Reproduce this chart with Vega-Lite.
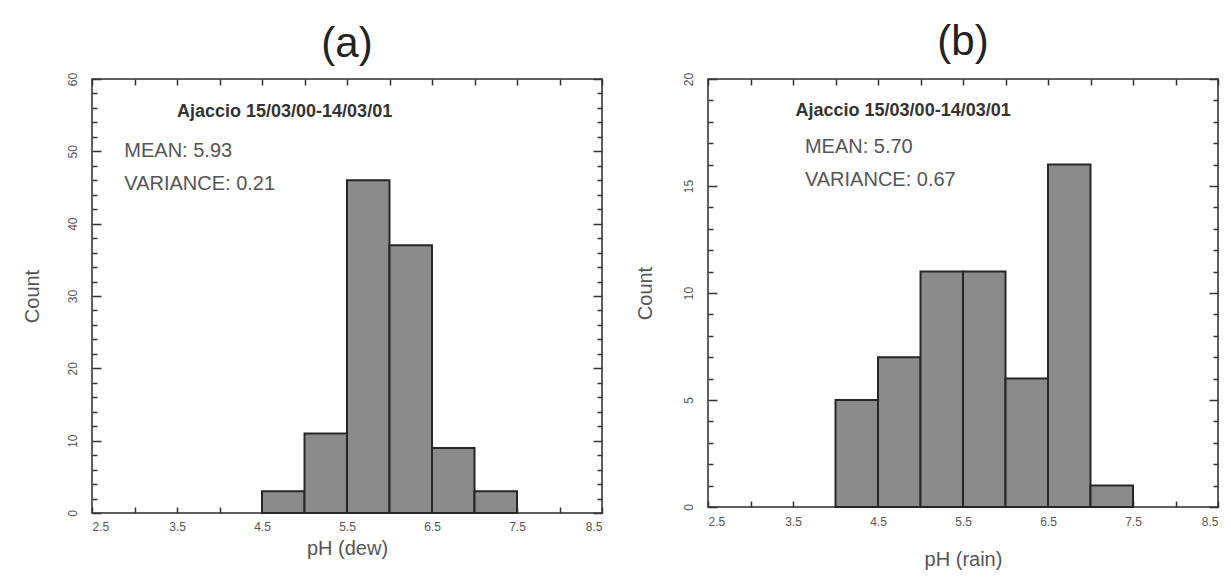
{
  "$schema": "https://vega.github.io/schema/vega-lite/v6.json",
  "background": "#ffffff",
  "padding": {"left": 21, "top": 20, "right": 5, "bottom": 5},
  "datasets": {
    "dew": [
      {"bin_start": 4.5, "bin_end": 5.0, "count": 3},
      {"bin_start": 5.0, "bin_end": 5.5, "count": 11},
      {"bin_start": 5.5, "bin_end": 6.0, "count": 46},
      {"bin_start": 6.0, "bin_end": 6.5, "count": 37},
      {"bin_start": 6.5, "bin_end": 7.0, "count": 9},
      {"bin_start": 7.0, "bin_end": 7.5, "count": 3}
    ],
    "rain": [
      {"bin_start": 4.0, "bin_end": 4.5, "count": 5},
      {"bin_start": 4.5, "bin_end": 5.0, "count": 7},
      {"bin_start": 5.0, "bin_end": 5.5, "count": 11},
      {"bin_start": 5.5, "bin_end": 6.0, "count": 11},
      {"bin_start": 6.0, "bin_end": 6.5, "count": 6},
      {"bin_start": 6.5, "bin_end": 7.0, "count": 16},
      {"bin_start": 7.0, "bin_end": 7.5, "count": 1}
    ],
    "dew_notes": [
      {"px": 3.5, "cy": 55.4, "label": "Ajaccio 15/03/00-14/03/01", "kind": "site"},
      {"px": 2.88, "cy": 50.0, "label": "MEAN: 5.93", "kind": "stat"},
      {"px": 2.88, "cy": 45.5, "label": "VARIANCE: 0.21", "kind": "stat"}
    ],
    "rain_notes": [
      {"px": 3.53, "cy": 18.5, "label": "Ajaccio 15/03/00-14/03/01", "kind": "site"},
      {"px": 3.64, "cy": 16.8, "label": "MEAN: 5.70", "kind": "stat"},
      {"px": 3.64, "cy": 15.3, "label": "VARIANCE: 0.67", "kind": "stat"}
    ]
  },
  "hconcat": [
    {
      "width": 510,
      "height": 434,
      "title": {"text": "(a)", "anchor": "middle", "offset": 6},
      "layer": [
        {
          "data": {"name": "dew"},
          "mark": {"type": "bar", "fill": "#8b8b8b", "stroke": "#262626", "strokeWidth": 2},
          "encoding": {
            "x": {"field": "bin_start", "type": "quantitative",
                  "scale": {"domain": [2.5, 8.5], "nice": false, "zero": false},
                  "axis": {"orient": "bottom", "title": "pH (dew)",
                           "values": [2.5, 3, 3.5, 4, 4.5, 5, 5.5, 6, 6.5, 7, 7.5, 8, 8.5],
                           "labelExpr": "(datum.value * 2) % 2 == 1 ? format(datum.value, '.1f') : ''",
                           "tickSize": -6, "labelPadding": 14, "titlePadding": 6}},
            "x2": {"field": "bin_end"},
            "y": {"field": "count", "type": "quantitative",
                  "scale": {"domain": [0, 60], "nice": false},
                  "axis": {"orient": "left", "title": "Count",
                           "values": [0, 2, 4, 6, 8, 10, 12, 14, 16, 18, 20, 22, 24, 26, 28, 30, 32, 34, 36, 38, 40, 42, 44, 46, 48, 50, 52, 54, 56, 58, 60],
                           "labelExpr": "datum.value % 10 == 0 ? datum.value : ''",
                           "tickSize": {"condition": {"test": "datum.value % 10 == 0", "value": -9}, "value": -5},
                           "labelAngle": -90, "labelAlign": "center", "labelBaseline": "bottom",
                           "labelPadding": 22, "titlePadding": 24}},
            "y2": {"datum": 0}
          }
        },
        {
          "data": {"name": "dew_notes"},
          "transform": [{"filter": "datum.kind == 'site'"}],
          "mark": {"type": "text", "align": "left", "baseline": "middle", "font": "Liberation Sans", "fontSize": 18, "fontWeight": "bold", "color": "#333"},
          "encoding": {
            "x": {"field": "px", "type": "quantitative",
                  "axis": {"orient": "top", "title": null, "labels": false,
                           "values": [2.5, 3, 3.5, 4, 4.5, 5, 5.5, 6, 6.5, 7, 7.5, 8, 8.5], "tickSize": -6}},
            "y": {"field": "cy", "type": "quantitative",
                  "axis": {"orient": "right", "title": null, "labels": false,
                           "values": [0, 2, 4, 6, 8, 10, 12, 14, 16, 18, 20, 22, 24, 26, 28, 30, 32, 34, 36, 38, 40, 42, 44, 46, 48, 50, 52, 54, 56, 58, 60],
                           "tickSize": {"condition": {"test": "datum.value % 10 == 0", "value": -9}, "value": -5}}},
            "text": {"field": "label"}
          }
        },
        {
          "data": {"name": "dew_notes"},
          "transform": [{"filter": "datum.kind == 'stat'"}],
          "mark": {"type": "text", "align": "left", "baseline": "middle", "font": "Liberation Sans", "fontSize": 20, "color": "#555"},
          "encoding": {
            "x": {"field": "px", "type": "quantitative", "axis": null},
            "y": {"field": "cy", "type": "quantitative", "axis": null},
            "text": {"field": "label"}
          }
        }
      ],
      "resolve": {"axis": {"x": "independent", "y": "independent"}}
    },
    {
      "width": 510,
      "height": 428,
      "title": {"text": "(b)", "anchor": "middle", "offset": 8},
      "layer": [
        {
          "data": {"name": "rain"},
          "mark": {"type": "bar", "fill": "#8b8b8b", "stroke": "#262626", "strokeWidth": 2},
          "encoding": {
            "x": {"field": "bin_start", "type": "quantitative",
                  "scale": {"domain": [2.5, 8.5], "nice": false, "zero": false},
                  "axis": {"orient": "bottom", "title": "pH (rain)",
                           "values": [2.5, 3, 3.5, 4, 4.5, 5, 5.5, 6, 6.5, 7, 7.5, 8, 8.5],
                           "labelExpr": "(datum.value * 2) % 2 == 1 ? format(datum.value, '.1f') : ''",
                           "tickSize": -6, "labelPadding": 15, "titlePadding": 22}},
            "x2": {"field": "bin_end"},
            "y": {"field": "count", "type": "quantitative",
                  "scale": {"domain": [0, 20], "nice": false},
                  "axis": {"orient": "left", "title": "Count",
                           "values": [0, 1, 2, 3, 4, 5, 6, 7, 8, 9, 10, 11, 12, 13, 14, 15, 16, 17, 18, 19, 20],
                           "labelExpr": "datum.value % 5 == 0 ? datum.value : ''",
                           "tickSize": {"condition": {"test": "datum.value % 5 == 0", "value": -9}, "value": -5},
                           "labelAngle": -90, "labelAlign": "center", "labelBaseline": "bottom",
                           "labelPadding": 22, "titlePadding": 27}},
            "y2": {"datum": 0}
          }
        },
        {
          "data": {"name": "rain_notes"},
          "transform": [{"filter": "datum.kind == 'site'"}],
          "mark": {"type": "text", "align": "left", "baseline": "middle", "font": "Liberation Sans", "fontSize": 18, "fontWeight": "bold", "color": "#333"},
          "encoding": {
            "x": {"field": "px", "type": "quantitative",
                  "axis": {"orient": "top", "title": null, "labels": false,
                           "values": [2.5, 3, 3.5, 4, 4.5, 5, 5.5, 6, 6.5, 7, 7.5, 8, 8.5], "tickSize": -6}},
            "y": {"field": "cy", "type": "quantitative",
                  "axis": {"orient": "right", "title": null, "labels": false,
                           "values": [0, 1, 2, 3, 4, 5, 6, 7, 8, 9, 10, 11, 12, 13, 14, 15, 16, 17, 18, 19, 20],
                           "tickSize": {"condition": {"test": "datum.value % 5 == 0", "value": -9}, "value": -5}}},
            "text": {"field": "label"}
          }
        },
        {
          "data": {"name": "rain_notes"},
          "transform": [{"filter": "datum.kind == 'stat'"}],
          "mark": {"type": "text", "align": "left", "baseline": "middle", "font": "Liberation Sans", "fontSize": 20, "color": "#555"},
          "encoding": {
            "x": {"field": "px", "type": "quantitative", "axis": null},
            "y": {"field": "cy", "type": "quantitative", "axis": null},
            "text": {"field": "label"}
          }
        }
      ],
      "resolve": {"axis": {"x": "independent", "y": "independent"}}
    }
  ],
  "spacing": 30,
  "config": {
    "view": {"stroke": "#2b2b2b", "strokeWidth": 1.5},
    "axis": {
      "grid": false, "domain": false,
      "labelFont": "Liberation Sans", "labelFontSize": 12, "labelColor": "#555",
      "titleFont": "Liberation Sans", "titleFontSize": 20, "titleFontWeight": "normal", "titleColor": "#555",
      "tickColor": "#333", "tickWidth": 1.5
    },
    "title": {"font": "Liberation Sans", "fontSize": 42, "fontWeight": "normal", "color": "#222"}
  }
}
